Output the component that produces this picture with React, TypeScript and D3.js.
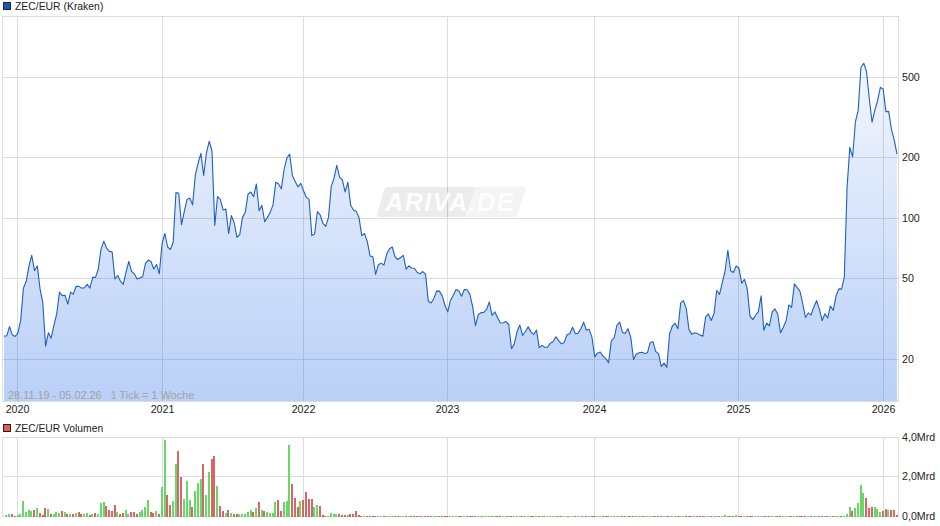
import React from "react";
import * as d3 from "d3";

const prices: number[] = [
  26, 26.1, 29, 26.4, 25.9, 27, 31, 45, 48.5, 58,
  65.5, 55, 58, 44.6, 38, 23.2, 27, 25.4, 29.4, 33.5,
  43, 41.3, 41.5, 37.5, 43, 42, 46, 45.9, 45, 45.2,
  47, 45, 51, 50.9, 56, 70.5, 77, 71, 68.5, 68,
  50, 52, 48.7, 47, 54, 61, 54.5, 53, 50, 50.6,
  51.3, 59.5, 62, 61, 56, 59, 53, 75, 84, 72,
  70, 76, 134, 133, 93, 108, 124, 126, 116.5, 164,
  188, 210, 163, 211, 241, 215, 92, 128, 124, 110,
  111, 84, 103, 95, 80.4, 83, 101, 107, 132, 135,
  128, 148, 109, 116, 96, 101, 107, 116.5, 151, 148,
  140, 175, 199, 208, 163, 152, 143, 149, 137, 127,
  124, 82, 83.5, 108, 104, 94.4, 91.2, 101, 144, 158,
  183, 160, 155, 135, 151, 116, 110, 108, 101, 82,
  84, 76.5, 65, 64.4, 52.6, 58.8, 59.9, 58.5, 66.4, 70.6,
  72, 64.4, 62.4, 63.9, 65.4, 55.9, 58, 56.6, 56.5, 53.8,
  53, 54.4, 52.8, 38.7, 38, 40, 43.6, 43.5, 41.2, 37,
  34.3, 39.2, 41.5, 44.3, 43.6, 41, 44.3, 44.2, 41.9, 36.3,
  29.3, 33.2, 34, 34.1, 35.3, 38.4, 32.9, 34.3, 32.1, 30.2,
  30.3, 30.7, 29.7, 22.5, 23.8, 27.4, 29.5, 26.2, 27.4, 28.9,
  27.3, 26.5, 27.9, 22.8, 23.4, 22.9, 22.9, 24, 24.4, 25.8,
  24.7, 23.8, 24.2, 26.4, 26.7, 28.8, 26.7, 26.9, 28.3, 30.5,
  27.8, 28.1, 25.7, 20.5, 21.4, 21.7, 20.7, 20.1, 19.2, 24.7,
  25.5, 29.4, 30.5, 27.2, 26.8, 28.3, 25.7, 19.9, 21.2, 21.5,
  21.6, 21.3, 21.5, 24.2, 24.4, 21.8, 21.3, 18.4, 19.1, 18.2,
  26.7, 29.2, 30.1, 28.3, 38, 39, 35.7, 28, 26.6, 27,
  26.8, 26.3, 26, 32.4, 33.5, 31.1, 33.6, 43.8, 41.9, 47.9,
  54.7, 69.3, 54.9, 53.8, 58, 56.6, 47.6, 49.7, 44.6, 32.7,
  31.4, 33, 34.4, 41.2, 27.8, 30.2, 29.2, 34.3, 35.5, 33.4,
  27, 28.8, 31, 37.1, 36.1, 47.3, 45.3, 43.5, 37.7, 32.2,
  33.9, 33.1, 36.3, 39, 35.5, 31, 33.6, 32, 36.7, 34.9,
  41, 44.6, 44.5, 51, 143, 224.7, 201.5, 301, 343, 560,
  588, 535, 393, 300, 343, 383, 446, 438, 338, 339,
  276, 244, 208,
];

const volumesMrd: number[] = [
  0, 0.10, 0.13, 0.13, 0.05, 0.10, 0.13, 0.79, 0.25, 0.34,
  0.29, 0.34, 0.44, 0.18, 0.10, 0.44, 0.39, 0.15, 0.15, 0.23,
  0.18, 0.29, 0.23, 0.15, 0.15, 0.15, 0.18, 0.23, 0.15, 0.15,
  0.18, 0.10, 0.15, 0.18, 0.15, 0.69, 0.74, 0.54, 0.34, 0.29,
  0.59, 0.23, 0.15, 0.18, 0.34, 0.13, 0.23, 0.23, 0.15, 0.23,
  0.34, 0.49, 0.87, 0.23, 0.18, 0.29, 0.15, 1.51, 3.92, 1.11,
  0.60, 0.80, 2.67, 3.32, 2.01, 0.91, 1.81, 0.86, 0.50, 1.31,
  1.71, 1.91, 2.67, 1.11, 2.26, 2.92, 3.07, 1.56, 0.55, 0.30,
  0.20, 0.35, 0.20, 0.15, 0.15, 0.15, 0.15, 0.15, 0.25, 0.35,
  0.25, 0.45, 0.75, 0.35, 0.30, 0.25, 0.20, 0.20, 0.75, 0.86,
  0.30, 0.75, 0.80, 3.67, 1.66, 0.96, 0.50, 0.80, 0.86, 1.26,
  0.91, 0.91, 0.50, 0.60, 0.55, 0.10, 0.07, 0.07, 0.18, 0.13,
  0.13, 0.13, 0.08, 0.08, 0.08, 0.15, 0.15, 0.30, 0.08, 0.05,
  0.05, 0.05, 0.04, 0.05, 0.05, 0.05, 0.04, 0.05, 0.05, 0.04,
  0.05, 0.04, 0.05, 0.05, 0.04, 0.05, 0.05, 0.04, 0.05, 0.05,
  0.04, 0.05, 0.05, 0.04, 0.05, 0.05, 0.05, 0.04, 0.05, 0.04,
  0.05, 0.05, 0.04, 0.05, 0.05, 0.04, 0.05, 0.04, 0.05, 0.05,
  0.05, 0.04, 0.05, 0.05, 0.04, 0.05, 0.04, 0.05, 0.05, 0.04,
  0.05, 0.05, 0.04, 0.05, 0.04, 0.05, 0.05, 0.05, 0.04, 0.05,
  0.04, 0.05, 0.05, 0.04, 0.05, 0.05, 0.04, 0.05, 0.05, 0.04,
  0.05, 0.04, 0.05, 0.05, 0.05, 0.04, 0.05, 0.05, 0.04, 0.05,
  0.05, 0.04, 0.05, 0.04, 0.05, 0.05, 0.04, 0.05, 0.05, 0.05,
  0.04, 0.05, 0.05, 0.04, 0.05, 0.04, 0.05, 0.05, 0.04, 0.05,
  0.05, 0.05, 0.04, 0.05, 0.04, 0.05, 0.05, 0.04, 0.05, 0.05,
  0.04, 0.05, 0.05, 0.05, 0.04, 0.05, 0.04, 0.05, 0.05, 0.04,
  0.05, 0.05, 0.04, 0.05, 0.05, 0.04, 0.05, 0.05, 0.05, 0.05,
  0.08, 0.06, 0.05, 0.05, 0.08, 0.05, 0.05, 0.04, 0.05, 0.05,
  0.04, 0.05, 0.05, 0.05, 0.04, 0.05, 0.05, 0.04, 0.05, 0.05,
  0.05, 0.04, 0.05, 0.05, 0.04, 0.05, 0.05, 0.05, 0.04, 0.05,
  0.05, 0.04, 0.05, 0.05, 0.05, 0.04, 0.05, 0.05, 0.05, 0.05,
  0.05, 0.05, 0.05, 0.05, 0.13, 0.50, 0.30, 0.45, 0.70, 1.61,
  1.21, 0.96, 0.45, 0.50, 0.50, 0.42, 0.25, 0.30, 0.40, 0.37,
  0.37, 0.37, 0.10,
];

const priceTicks: number[] = [500, 200, 100, 50, 20];
const volumeTicks: number[] = [4, 2, 0];
const volumeTickLabels: string[] = ["4,0Mrd", "2,0Mrd", "0,0Mrd"];
const yearLabels: string[] = ["2020", "2021", "2022", "2023", "2024", "2025", "2026"];
const yearWeekIndex: number[] = [4.9, 57.1, 107.9, 159.8, 212.9, 264.8, 317.1];

const GRID = "#dcdcdc";
const FONT = "'Liberation Sans', Arial, sans-serif";
const crisp = (v: number) => Math.floor(v - 0.1) + 0.5;

export default function App() {
  const x = d3.scaleLinear().domain([0, prices.length - 1]).range([4, 897]);
  const y = d3.scaleLog().domain([500, 20]).range([77.4, 359.1]);
  const yv = d3.scaleLinear().domain([0, 4]).range([516.5, 437.5]);
  const priceBottom = 401;

  const line = d3.line<number>().x((_, i) => x(i)).y((d) => y(d));
  const area = d3.area<number>().x((_, i) => x(i)).y0(priceBottom).y1((d) => y(d));

  return (
    <svg
      width={940}
      height={526}
      style={{ position: "absolute", left: 0, top: 0, background: "#fff" }}
      fontFamily={FONT}
      fontSize={10.67}
    >
      <defs>
        <linearGradient id="fill" gradientUnits="userSpaceOnUse" x1={0} x2={0} y1={65} y2={401}>
          <stop offset="0" stopColor="#2a6fe8" stopOpacity={0.06} />
          <stop offset="1" stopColor="#2a6fe8" stopOpacity={0.33} />
        </linearGradient>
      </defs>

      {/* price legend */}
      <rect x={3.5} y={2.5} width={7} height={7} fill="#1a56b8" stroke="#1c2a44" />
      <text x={15} y={9.5} fill="#222" fontSize={10.4}>ZEC/EUR (Kraken)</text>

      {/* price grid */}
      <g stroke={GRID} fill="none" shapeRendering="crispEdges">
        <rect x={2.5} y={16.5} width={896} height={385} />
        {priceTicks.map((t) => (
          <line key={t} x1={2.5} x2={898.5} y1={crisp(y(t) + 0.1)} y2={crisp(y(t) + 0.1)} />
        ))}
        {yearWeekIndex.map((w) => (
          <line key={w} x1={Math.floor(x(w)) + 0.5} x2={Math.floor(x(w)) + 0.5} y1={16.5} y2={401.5} />
        ))}
      </g>

      {/* watermark */}
      <g>
        <path d="M388 187 H476 L465 217 H380 Q376 217 377 213 L384 191 Q385 187 388 187 Z" fill="#000" fillOpacity={0.075} />
        <path d="M476 187 H522 Q526 187 525 191 L518 213 Q517 217 513 217 H465 Z" fill="#000" fillOpacity={0.045} />
        <text
          x={450}
          y={211}
          textAnchor="middle"
          fontFamily="'Liberation Sans', Arial, sans-serif"
          fontStyle="italic"
          fontWeight="bold"
          fontSize={25}
          letterSpacing={1.5}
          fill="#fff"
          fillOpacity={0.92}
        >
          ARIVA.DE
        </text>
      </g>

      {/* price series */}
      <path d={area(prices) ?? ""} fill="url(#fill)" />
      <path d={line(prices) ?? ""} fill="none" stroke="#1f5fc4" strokeWidth={1.1} strokeLinejoin="round" />

      <text x={8} y={398.5} fill="#a3a3a3" xmlSpace="preserve" style={{ whiteSpace: "pre" }} fontSize={10.9}>
        {"28.11.19 - 05.02.26   1 Tick = 1 Woche"}
      </text>

      {/* price labels */}
      <g fill="#222">
        {priceTicks.map((t) => (
          <text key={t} x={902} y={crisp(y(t) + 0.1) + 3.5}>{t}</text>
        ))}
        {yearLabels.map((l, i) => (
          <text key={l} x={Math.floor(x(yearWeekIndex[i])) + 0.5} y={413} textAnchor="middle">{l}</text>
        ))}
      </g>

      {/* volume legend */}
      <rect x={3.5} y={424.5} width={7} height={7} fill="#d9605f" stroke="#2a1c1c" />
      <text x={15} y={431.5} fill="#222" fontSize={10.3}>ZEC/EUR Volumen</text>

      {/* volume grid */}
      <g stroke={GRID} fill="none" shapeRendering="crispEdges">
        <rect x={2.5} y={437.5} width={896} height={79} />
        {volumeTicks.map((t) => (
          <line key={t} x1={2.5} x2={898.5} y1={crisp(yv(t))} y2={crisp(yv(t))} />
        ))}
        {yearWeekIndex.map((w) => (
          <line key={w} x1={Math.floor(x(w)) + 0.5} x2={Math.floor(x(w)) + 0.5} y1={437.5} y2={516.5} />
        ))}
      </g>

      {/* volume bars, coloured by the week's price move */}
      <g shapeRendering="crispEdges">
        {volumesMrd.map((v, i) => {
          if (v <= 0) return null;
          const top = Math.min(516, Math.round(yv(v) + 0.5));
          const up = i === 0 || prices[i] >= prices[i - 1];
          return (
            <rect
              key={i}
              x={Math.round(x(i) - 1.3)}
              y={top}
              width={2}
              height={517 - top}
              fill={up ? "#66d966" : "#d96666"}
            />
          );
        })}
      </g>

      {/* volume labels */}
      <g fill="#222">
        {volumeTicks.map((t, i) => (
          <text key={t} x={902} y={crisp(yv(t)) + 3.5}>{volumeTickLabels[i]}</text>
        ))}
      </g>
    </svg>
  );
}
